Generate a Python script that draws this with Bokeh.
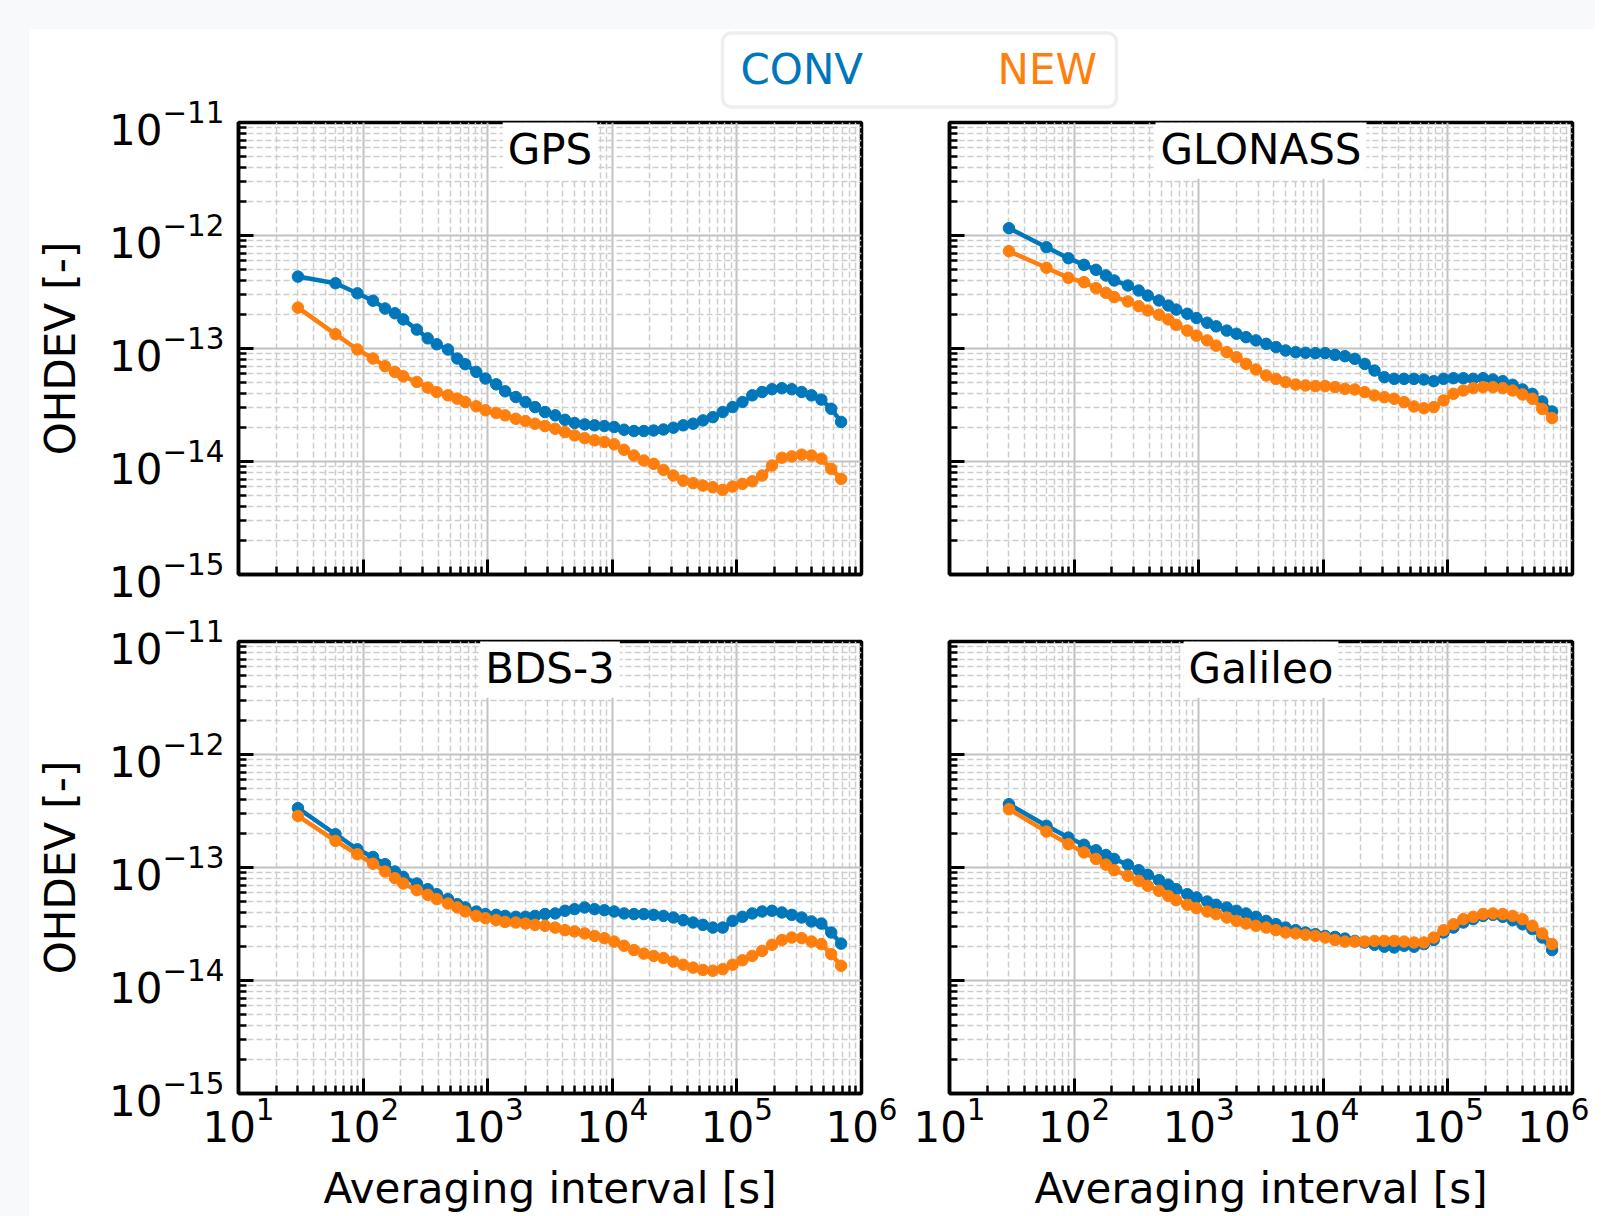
from bokeh.plotting import figure
from bokeh.layouts import column, row
from bokeh.models import (Range1d, FixedTicker, Label, BoxAnnotation, Spacer,
                          CustomJSTickFormatter)
from bokeh.core.properties import value
from bokeh.embed import file_html
from bokeh.resources import INLINE

FONT = "DejaVu Sans"
BLUE = "#0077BB"
ORANGE = "#FF7F0E"
PAGE_BG = "#f7f9fa"

# ---------------- data ----------------
tau_s = [30, 60, 90, 120, 150, 180, 210, 270, 330, 390, 480, 570, 660, 810, 960,
         1170, 1380, 1680, 2010, 2400, 2880, 3480, 4170, 4980, 6000, 7200, 8640,
         10350, 12420, 14910, 17890, 21470, 25760, 30920, 37100, 44520, 53430,
         64110, 76920, 92310, 110790, 132930, 159510, 191430, 229710, 275640,
         330780, 396930, 476310, 571590, 685890]

gps_conv = [4.33e-13, 3.78e-13, 3.08e-13, 2.65e-13, 2.26e-13, 2.05e-13, 1.81e-13, 1.47e-13, 1.23e-13, 1.09e-13,
            9.8e-14, 8.15e-14, 7.26e-14, 6.21e-14, 5.42e-14, 4.82e-14, 4.18e-14, 3.72e-14, 3.36e-14, 3.03e-14,
            2.74e-14, 2.56e-14, 2.34e-14, 2.19e-14, 2.13e-14, 2.09e-14, 2.06e-14, 2.02e-14, 1.91e-14, 1.86e-14,
            1.86e-14, 1.88e-14, 1.92e-14, 1.99e-14, 2.09e-14, 2.16e-14, 2.31e-14, 2.47e-14, 2.74e-14, 3.03e-14,
            3.36e-14, 3.85e-14, 4.12e-14, 4.36e-14, 4.45e-14, 4.36e-14, 4.12e-14, 3.85e-14, 3.53e-14, 2.93e-14,
            2.24e-14]
gps_new = [2.30e-13, 1.34e-13, 9.8e-14, 8.15e-14, 6.97e-14, 6.21e-14, 5.68e-14, 5.06e-14, 4.51e-14, 4.12e-14,
           3.85e-14, 3.60e-14, 3.36e-14, 3.08e-14, 2.84e-14, 2.69e-14, 2.56e-14, 2.39e-14, 2.28e-14, 2.16e-14,
           2.06e-14, 1.95e-14, 1.82e-14, 1.70e-14, 1.61e-14, 1.54e-14, 1.49e-14, 1.42e-14, 1.27e-14, 1.13e-14,
           1.02e-14, 9.53e-15, 8.43e-15, 7.51e-15, 6.78e-15, 6.43e-15, 6.12e-15, 5.92e-15, 5.61e-15, 6.00e-15,
           6.34e-15, 6.68e-15, 7.51e-15, 9.21e-15, 1.08e-14, 1.11e-14, 1.15e-14, 1.13e-14, 1.06e-14, 8.61e-15,
           7.02e-15]
glo_conv = [1.16e-12, 7.88e-13, 6.30e-13, 5.50e-13, 4.97e-13, 4.43e-13, 4.00e-13, 3.61e-13, 3.26e-13, 2.94e-13,
            2.66e-13, 2.40e-13, 2.21e-13, 2.03e-13, 1.86e-13, 1.69e-13, 1.57e-13, 1.44e-13, 1.35e-13, 1.26e-13,
            1.18e-13, 1.10e-13, 1.03e-13, 9.60e-14, 9.28e-14, 9.16e-14, 9.10e-14, 9.10e-14, 8.79e-14, 8.55e-14,
            8.10e-14, 7.31e-14, 6.38e-14, 5.57e-14, 5.39e-14, 5.39e-14, 5.39e-14, 5.32e-14, 5.14e-14, 5.39e-14,
            5.46e-14, 5.46e-14, 5.39e-14, 5.46e-14, 5.32e-14, 5.14e-14, 4.77e-14, 4.34e-14, 3.97e-14, 3.40e-14,
            2.77e-14]
glo_new = [7.26e-13, 5.18e-13, 4.22e-13, 3.86e-13, 3.42e-13, 3.11e-13, 2.85e-13, 2.61e-13, 2.37e-13, 2.17e-13,
           1.99e-13, 1.81e-13, 1.62e-13, 1.44e-13, 1.30e-13, 1.18e-13, 1.06e-13, 9.28e-14, 8.38e-14, 7.31e-14,
           6.52e-14, 5.77e-14, 5.39e-14, 5.04e-14, 4.80e-14, 4.71e-14, 4.65e-14, 4.65e-14, 4.55e-14, 4.40e-14,
           4.34e-14, 4.11e-14, 3.84e-14, 3.71e-14, 3.59e-14, 3.35e-14, 3.07e-14, 2.96e-14, 3.03e-14, 3.47e-14,
           3.97e-14, 4.25e-14, 4.46e-14, 4.55e-14, 4.55e-14, 4.46e-14, 4.25e-14, 3.92e-14, 3.59e-14, 2.92e-14,
           2.42e-14]
bds_conv = [3.35e-13, 1.97e-13, 1.45e-13, 1.24e-13, 1.07e-13, 9.22e-14, 8.27e-14, 7.22e-14, 6.43e-14, 5.81e-14,
            5.25e-14, 4.74e-14, 4.43e-14, 4.08e-14, 3.87e-14, 3.81e-14, 3.73e-14, 3.66e-14, 3.66e-14, 3.73e-14,
            3.87e-14, 3.92e-14, 4.14e-14, 4.28e-14, 4.43e-14, 4.28e-14, 4.19e-14, 4.08e-14, 3.92e-14, 3.87e-14,
            3.87e-14, 3.81e-14, 3.73e-14, 3.61e-14, 3.42e-14, 3.26e-14, 3.11e-14, 2.94e-14, 2.94e-14, 3.37e-14,
            3.66e-14, 3.92e-14, 4.08e-14, 4.14e-14, 4.00e-14, 3.81e-14, 3.61e-14, 3.33e-14, 3.19e-14, 2.66e-14,
            2.12e-14]
bds_new = [2.86e-13, 1.72e-13, 1.31e-13, 1.08e-13, 9.22e-14, 8.05e-14, 7.22e-14, 6.30e-14, 5.73e-14, 5.25e-14,
           4.80e-14, 4.43e-14, 4.08e-14, 3.73e-14, 3.56e-14, 3.42e-14, 3.30e-14, 3.26e-14, 3.19e-14, 3.11e-14,
           3.05e-14, 2.94e-14, 2.79e-14, 2.72e-14, 2.61e-14, 2.48e-14, 2.37e-14, 2.21e-14, 2.03e-14, 1.86e-14,
           1.73e-14, 1.65e-14, 1.58e-14, 1.47e-14, 1.38e-14, 1.30e-14, 1.24e-14, 1.22e-14, 1.26e-14, 1.38e-14,
           1.51e-14, 1.65e-14, 1.83e-14, 2.07e-14, 2.28e-14, 2.40e-14, 2.37e-14, 2.21e-14, 2.10e-14, 1.71e-14,
           1.35e-14]
gal_conv = [3.63e-13, 2.34e-13, 1.84e-13, 1.59e-13, 1.42e-13, 1.29e-13, 1.19e-13, 1.06e-13, 9.47e-14, 8.61e-14,
            7.73e-14, 7.03e-14, 6.43e-14, 5.81e-14, 5.43e-14, 5.00e-14, 4.68e-14, 4.43e-14, 4.14e-14, 3.92e-14,
            3.66e-14, 3.37e-14, 3.15e-14, 2.94e-14, 2.79e-14, 2.66e-14, 2.57e-14, 2.48e-14, 2.43e-14, 2.35e-14,
            2.24e-14, 2.17e-14, 2.07e-14, 1.99e-14, 1.96e-14, 2.03e-14, 1.99e-14, 2.10e-14, 2.28e-14, 2.66e-14,
            2.94e-14, 3.26e-14, 3.49e-14, 3.73e-14, 3.81e-14, 3.66e-14, 3.42e-14, 3.15e-14, 2.85e-14, 2.40e-14,
            1.86e-14]
gal_new = [3.28e-13, 2.08e-13, 1.61e-13, 1.36e-13, 1.19e-13, 1.06e-13, 9.47e-14, 8.44e-14, 7.62e-14, 6.89e-14,
           6.22e-14, 5.61e-14, 5.14e-14, 4.68e-14, 4.37e-14, 4.08e-14, 3.87e-14, 3.61e-14, 3.37e-14, 3.19e-14,
           3.05e-14, 2.94e-14, 2.79e-14, 2.66e-14, 2.61e-14, 2.54e-14, 2.48e-14, 2.40e-14, 2.28e-14, 2.21e-14,
           2.21e-14, 2.21e-14, 2.24e-14, 2.24e-14, 2.24e-14, 2.21e-14, 2.17e-14, 2.17e-14, 2.40e-14, 2.79e-14,
           3.15e-14, 3.49e-14, 3.66e-14, 3.87e-14, 3.92e-14, 3.87e-14, 3.73e-14, 3.49e-14, 3.05e-14, 2.61e-14,
           2.10e-14]

panel_titles = ["GPS", "GLONASS", "BDS-3", "Galileo"]
series_labels = ["CONV", "NEW"]
series_colors = [BLUE, ORANGE]

x_major_ticks = [1e1, 1e2, 1e3, 1e4, 1e5, 1e6]
y_major_ticks = [1e-15, 1e-14, 1e-13, 1e-12, 1e-11]
x_minor_ticks = [m * t for t in x_major_ticks[:-1] for m in range(2, 10)]
y_minor_ticks = [m * t for t in y_major_ticks[:-1] for m in range(2, 10)]

x_label = "Averaging interval [s]"
y_label = "OHDEV [-]"

FW, FH = 623, 452


def make_panel(title, conv, new, left, bottom):
    p = figure(x_axis_type="log", y_axis_type="log",
               x_range=Range1d(10, 1e6), y_range=Range1d(1e-15, 1e-11),
               frame_width=FW, frame_height=FH,
               min_border_left=209 if left else 44,
               min_border_right=44 if left else 17,
               min_border_top=30 if bottom else 93,
               min_border_bottom=100 if bottom else 37,
               output_backend="svg", toolbar_location=None,
               background_fill_color="white", border_fill_color=None,
               outline_line_color="black", outline_line_width=3.5)

    p.xaxis.ticker = FixedTicker(ticks=x_major_ticks, minor_ticks=x_minor_ticks)
    p.yaxis.ticker = FixedTicker(ticks=y_major_ticks, minor_ticks=y_minor_ticks)

    for ax in (p.xaxis[0], p.yaxis[0]):
        ax.axis_line_color = "black"
        ax.axis_line_width = 3.5
        ax.major_tick_in = 15
        ax.major_tick_out = 0
        ax.minor_tick_in = 8
        ax.minor_tick_out = 0
        ax.major_tick_line_width = 3
        ax.minor_tick_line_width = 2.5
        ax.major_tick_line_color = "black"
        ax.minor_tick_line_color = "black"
        ax.major_label_text_font = FONT
        ax.major_label_text_font_size = "42px"
        ax.major_label_text_color = "black"
        ax.axis_label_text_font = FONT
        ax.axis_label_text_font_size = "42px"
        ax.axis_label_text_font_style = "normal"
        ax.axis_label_text_color = "black"

    p.xaxis.major_label_standoff = 3
    p.yaxis.major_label_standoff = 14
    p.xaxis.axis_label_standoff = 19
    p.yaxis.axis_label_standoff = 21

    if bottom:
        p.xaxis.axis_label = x_label
    else:
        p.xaxis.formatter = CustomJSTickFormatter(code="return ''")
        p.xaxis.major_label_standoff = 0
    if left:
        p.yaxis.axis_label = y_label
    else:
        p.yaxis.formatter = CustomJSTickFormatter(code="return ''")
        p.yaxis.major_label_standoff = 0

    for g in (p.xgrid[0], p.ygrid[0]):
        g.grid_line_color = "#c2c2c2"
        g.grid_line_width = 2
        g.minor_grid_line_color = "#cdcdcd"
        g.minor_grid_line_width = 1.5
        g.minor_grid_line_dash = "6 3"

    for vals, col in zip((conv, new), series_colors):
        p.line(tau_s, vals, line_color=col, line_width=4.5)
        p.scatter(tau_s, vals, marker="circle", size=11.5, fill_color=col, line_color=col)

    p.add_layout(Label(x=10 ** 3.5, y=5.8e-12, text=title, text_align="center",
                       text_baseline="middle", text_font=FONT, text_font_size="42px",
                       text_color="black", background_fill_color="white",
                       padding=5))
    return p


tl = make_panel(panel_titles[0], gps_conv, gps_new, True, False)
tr = make_panel(panel_titles[1], glo_conv, glo_new, False, False)
bl = make_panel(panel_titles[2], bds_conv, bds_new, True, True)
br = make_panel(panel_titles[3], gal_conv, gal_new, False, True)

# ---- header strip with the legend; it overlaps the (transparent) top border of row 1
HW, HH = 1566, 80          # page x 29..1595, page y 29..109 (hy = 109 - page_y)
h = figure(x_range=Range1d(0, HW), y_range=Range1d(0, HH),
           frame_width=HW, frame_height=HH, min_border=0,
           x_axis_location=None, y_axis_location=None,
           output_backend="svg", toolbar_location=None,
           background_fill_color=None, border_fill_color=None,
           outline_line_color=None, margin=(0, 0, -HH, 0))
h.grid.visible = False
h.add_layout(BoxAnnotation(left=693, right=1087, bottom=2.5, top=76.5,
                           fill_color="white", fill_alpha=1.0,
                           line_color="#c8c8c8", line_width=3.5, border_radius=9,
                           level="underlay"))
h.text(x=[711, 968], y=[40, 40], text=series_labels, text_color=series_colors,
       text_font=value(FONT), text_font_size="42px",
       text_baseline="middle", text_align="left")

content = column(h, row(tl, tr), row(bl, br))
root = column(Spacer(width=1595, height=29, styles={"background-color": PAGE_BG}),
              row(Spacer(width=29, height=1187, styles={"background-color": PAGE_BG}), content))

open("out.html", "w").write(file_html(root, INLINE))
